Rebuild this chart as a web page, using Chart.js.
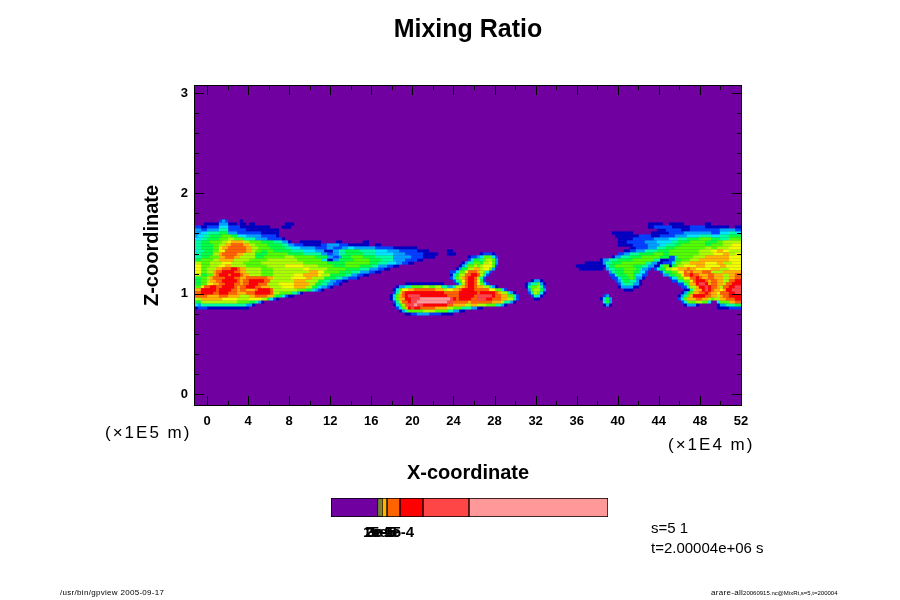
<!DOCTYPE html>
<html>
<head>
<meta charset="utf-8">
<title>Mixing Ratio</title>
<script src="https://cdn.jsdelivr.net/npm/chart.js@4"></script>
<style>
  html, body { margin: 0; background: #fff; }
  #wrap { position: relative; width: 900px; height: 600px; overflow: hidden; font-family: "Liberation Sans", sans-serif; color: #000; }
  #field { position: absolute; left: 0; top: 0; }
  #bar { position: absolute; left: 301px; top: 490px; }
  .note { position: absolute; white-space: nowrap; line-height: 1; }
  .scale { font-size: 17px; letter-spacing: 2px; }
  .info { font-size: 15px; }
  .foot { font-size: 8px; letter-spacing: .3px; }
</style>
</head>
<body>
<div id="wrap">
  <canvas id="field" width="900" height="600"></canvas>
  <canvas id="bar" width="336" height="60"></canvas>
  <div class="note scale" style="left:105px;top:424px">(×1E5 m)</div>
  <div class="note scale" style="left:668px;top:436px">(×1E4 m)</div>
  <div class="note info" style="left:651px;top:520px">s=5 1</div>
  <div class="note info" style="left:651px;top:540px">t=2.00004e+06 s</div>
  <div class="note foot" style="left:60px;top:589px">/usr/bin/gpview 2005-09-17</div>
  <div class="note foot" style="left:711px;top:589px">arare-all<span style="font-size:6px;letter-spacing:0">20060915.nc@MixRt,s=5,t=200004</span></div>
</div>
<script>
'use strict'

// axis ticks
const xTickValues = [0,2,4,6,8,10,12,14,16,18,20,22,24,26,28,30,32,34,36,38,40,42,44,46,48,50,52];
const zTickValues = [0,0.2,0.4,0.6,0.8,1,1.2,1.4,1.6,1.8,2,2.2,2.4,2.6,2.8,3];

// contour levels, '.' is the plain background
const levelKeys = 'abcdefghijklmn';
const levelColors = ['#0000c0','#0040ff','#00a0ff','#00e4ff','#00ffa0','#00ff40','#50ff00','#a8ff00','#f0ff00','#ffb400','#ff6400','#ff0000','#ff4646','#ff9999'];

// field cells. one string per row from the top,
// each token is a level and the cell column where that level ends
const leftPlume = [
  '',
  '.8 b9 c10 b11 .15 a16',
  '.3 a8 c11 a14 .15 a17 .18 a20 .30 a33',
  'b2 a4 b8 d11 b15 a25 .29 a32',
  'c2 b4 c8 e11 b17 a28',
  'c2 d4 e8 f11 c14 b22 a28',
  'c1 d3 e5 f9 g12 f14 d17 c22 b27 a28',
  'd2 e4 f8 g11 h13 g16 e20 c24 b29 a30',
  'e2 f5 g9 h11 i12 j16 h18 g22 f26 e29 c31 a32 .35 a42 .47 a49 .56 a58',
  'e2 f6 g8 h10 j12 k16 j18 h20 g24 f29 e31 c33 b36 a42 b44 c48 b51 a58 .60 a62',
  'e2 f6 g8 i9 j11 k17 j19 h21 g25 f30 e32 d35 c40 b44 c46 b49 c51 d53 c60 b66 a74',
  'd1 e3 f6 g8 i10 k17 j19 h20 g22 f24 g26 f32 e36 d40 c43 a46 c48 e50 f55 e60 d64 c68 b74 a78 .84 a86',
  'e2 f6 h8 j9 k14 j16 h20 f24 g31 f36 e42 c44 b46 c48 e50 f56 e60 d66 c70 b76 a81 .84 a87',
  'e2 f5 g8 j10 k13 j15 h20 f23 g30 h33 g40 f44 c46 b48 c49 f52 g56 f60 e66 c72 b76 a80',
  'f2 g6 h8 j13 h18 g24 h34 g42 d44 a46 c48 f53 g58 f62 e66 c70 b74 a76',
  'h2 g5 h9 i12 h16 g22 h36 g44 f50 g58 f61 e64 d67 c69 b71 a73',
  'i2 g5 h8 i10 j12 h17 g24 h30 i36 h41 g46 f50 g55 f59 e61 c64 b66 a68',
  'i2 g4 h7 j9 k12 l14 k15 j17 h22 g26 h36 i38 h44 g50 f55 e58 c61 b63 a65',
  'i2 g4 h6 j7 k9 l13 k15 j17 h22 g26 h38 j41 i43 g48 f52 e55 c58 b60 a62',
  'h2 f4 g6 j7 k8 l11 k12 l15 k16 j18 h22 g26 h33 i36 j41 i42 h45 f50 e52 c54 b56 a58',
  'f2 g4 h5 j6 k10 l13 k15 j17 k24 j26 h32 i37 j39 h43 f47 e49 c51 b54 a55',
  'f2 g4 h5 j7 k9 l14 k15 j16 k18 l23 k25 h28 h33 j37 h41 f43 e45 c47 b49 a51',
  'f2 g4 i6 j8 k10 l13 k15 j16 k18 l21 k24 h28 i33 j38 h40 f42 e44 c46 b48 a49',
  'g2 i3 k5 l7 k9 l13 k14 j15 k17 l20 k22 j25 h29 i33 j37 h39 f41 d42 c44 b45 a46',
  'j2 l7 k8 l12 k14 j15 k17 j20 k21 l25 k26 h29 h34 g37 f39 d40 c41 b42 a43',
  'k2 l6 k8 l11 k14 j17 k20 l25 k26 h28 g32 e34 c35 a36',
  'k4 j8 k11 j15 h18 j20 k24 j26 g27 f29 d30 b31 a33',
  'h2 j9 i14 h18 i22 h24 f25 d26 b27 a28',
  'f2 h14 g18 f20 e21 c22 a23',
  'd1 c2 e17 c19 a20',
  'a1 b4 a18'
];

const midCloud = [
  '','','','','','','','','','','','',
  '.95 a96 b99 a100',
  '.91 a92 b94 c95 d96 g99 d100 b101',
  '.91 b92 d93 f95 e96 g97 h99 g100 c101',
  '.89 a90 c91 e93 g95 f96 h98 i99 g100 c101',
  '.88 a89 c90 e91 g93 h94 g95 h96 i99 g100 b101',
  '.87 a88 c89 f91 h93 j95 h96 i98 g99 c100',
  '.85 b87 d88 g90 i91 k94 j95 h96 g97 d98 b99',
  '.85 a86 d87 f88 h90 k92 l94 k95 h96 e97 b98',
  '.85 b86 d87 g88 h89 j90 k91 l93 k94 h95 e96 b97',
  '.86 b87 e88 g89 i90 k91 l93 k94 i95 f96 b97 .112 a113 c115 a116',
  '.70 a83 .87 b88 e89 h90 k91 l93 k94 i95 g96 d97 b98 .110 a111 c112 e114 g115 c116 a117',
  '.67 a68 c70 e72 g76 h78 g80 h82 e84 c86 e87 h89 j90 k91 l93 k94 j96 h98 e99 c100 a101 .110 a111 e112 g114 h115 e116 b117',
  '.66 a67 d68 g69 i71 j73 k80 j83 h84 i86 j88 k89 l93 k98 i100 g102 d103 b104 .111 c112 g113 h115 f116 c117',
  '.66 b67 e68 h69 k70 l83 k88 l94 k95 l100 k101 j102 h104 e105 c106 a107 .111 b112 e113 h114 g115 d116 a117',
  '.65 a66 d67 g68 j69 k70 l71 m75 l84 k88 l93 k94 m99 l100 k102 j104 g106 e107 b108 .112 b113 e114 d115 a116 .136 b137 c138',
  '.65 a66 d67 g68 j70 l72 m75 n85 m86 l87 k88 l92 k94 m97 l99 k102 j104 h106 e107 b108 .113 a115 .135 a136 d137 f138 c139',
  '.66 b67 e68 h69 k71 l72 m74 n84 m86 k91 j92 k99 j102 h103 e105 c106 a107 .136 d137 f138 c139',
  '.66 a67 d68 f69 h70 k71 m73 n74 m76 l84 k86 j90 h92 j94 h97 g100 e102 c103 a104 .136 a137 c138 a139',
  '.67 b68 d69 g70 j71 l72 m73 l75 k80 j84 h86 g89 e92 c94 a96',
  '.68 a69 c70 e71 g76 h80 g84 e86 c88 a90',
  '.70 a72 b74 c78 b82 a86'
];

const rightPlume = [
  '','',
  '.151 a156 .158 a163 .170 a172',
  '.151 a153 b159 a165 b170 a178 .180 a182',
  '.154 a157 b162 a165 b175 c180 b182',
  '.139 a146 .152 a158 b163 c172 b175 d178 e180 d182',
  '.140 a148 b152 a155 b160 c164 d168 e172 d175 e178 f182',
  '.141 a146 b153 c158 d161 e164 f168 g172 f175 e178 g182',
  '.141 a144 b150 c154 d159 e161 f165 g170 f174 g176 h182',
  '.141 a146 b151 c155 d157 e160 f162 g170 f172 g176 h179 i182',
  '.145 a147 b151 c154 e157 f160 g170 h172 g174 h178 i182',
  '.143 a145 b147 c150 e154 f158 g168 h172 i174 j176 i178 h182',
  '.141 b143 c145 e148 f153 g156 f158 g168 h173 i176 j178 h180 i182',
  '.139 a140 c142 e145 f149 g155 f158 b160 e161 g166 h170 j178 i182',
  '.135 a136 c138 e141 f146 g153 e155 a158 b160 f162 g165 h168 j178 i182',
  '.130 a136 c137 e139 f142 g150 e152 c154 a156 b159 d160 g162 h165 j170 i174 j176 h179 i182',
  '.127 a137 d138 f140 g146 f149 e151 c153 a155 e156 g158 a159 f160 g161 h163 i167 j170 i175 j177 i182',
  '.128 a136 .137 c138 e140 f143 g147 f148 e149 c151 b152 .153 b154 d155 f157 h159 i161 j164 k165 j167 i172 j175 h178 i182',
  '.138 c139 e140 f143 g146 f148 d150 b151 .155 b156 e157 f159 g161 i163 k164 j165 k166 j169 k172 h176 j182',
  '.138 b140 e141 f144 g146 f147 d149 b151 .156 c158 f160 g162 i163 k165 l166 k168 j171 k173 j176 h178 j180 k182',
  '.139 b141 d142 f145 g146 f147 c149 a150 .158 b159 d161 g163 i165 k167 l168 k169 j171 k173 j176 h178 j180 k182',
  '.140 b141 c142 e143 f145 e147 c148 a149 .159 b161 e163 g165 i166 k167 l170 k171 j172 k174 j176 h178 k180 l182',
  '.141 b142 d143 e146 c148 a149 .161 b163 e164 g165 j167 l168 m170 l171 j172 k174 j176 h177 k179 l182',
  '.141 a142 c146 a148 .162 b164 e165 h167 j168 l170 m171 l172 k174 j175 h176 k178 l180 m182',
  '.143 a146 .163 a165 e166 h167 j169 l170 m171 l172 k173 j175 i176 j177 l179 m182',
  '.162 a163 c164 f165 g166 j168 k170 l171 k172 j174 i175 k178 l180 m182',
  '.161 a162 c163 e164 g165 j166 l170 k172 j174 h175 j176 k178 l182',
  '.161 b162 d163 g164 j167 k169 j171 h172 g173 h175 j177 k180 l182',
  '.162 b163 d164 g167 h169 g171 d172 .174 d175 g178 j180 k182',
  '.163 a164 c167 a168 .174 a175 c177 e180 f182',
  '.174 a178 b182'
];

// colour bar
const barColors = ['#7000a0','#b0ff00','#ffff00','#ffb400','#ff6400','#ff0000','#ff4646','#ff9999'];
const barWidths = [47,2,2,5,13,23,46,139];
const barTickValues = [47,49,51,55,68];
const barTickLabels = ['1e-5','2e-5','3e-5','5e-5','1e-4'];

const BG = '#7000a0';
const PLOT = { left: 195, top: 85, right: 741, bottom: 405 };
const X_RANGE = [-1.17, 52];
const Z_RANGE = [-0.11, 3.07];
const CELL_X = 3 / 10.27;   // 3 px cell in axis units
const CELL_Z = 3 / 100.6;
const Z_FIRST = 1.768;      // top of first field row

// expand the run strings into one point list per level
function buildDatasets() {
  const cells = levelKeys.split('').map(() => []);
  [leftPlume, midCloud, rightPlume].forEach(rows => {
    rows.forEach((row, j) => {
      let col = 0;
      row.split(' ').filter(Boolean).forEach(tok => {
        const end = Number(tok.slice(1));
        const lvl = levelKeys.indexOf(tok[0]);
        for (; col < end; col++) {
          if (lvl >= 0) cells[lvl].push({
            x: X_RANGE[0] + (col + 0.5) * CELL_X,
            y: Z_FIRST - (j + 0.5) * CELL_Z
          });
        }
      });
    });
  });
  return cells.map((pts, i) => ({
    label: levelKeys[i],
    data: pts,
    showLine: false,
    pointStyle: 'rect',
    pointRadius: 2.3,
    pointBorderWidth: 0,
    pointHoverRadius: 2.3,
    backgroundColor: levelColors[i],
    order: levelColors.length - i
  }));
}

// purple underlay
const fieldBack = {
  id: 'fieldBack',
  beforeDatasetsDraw(chart) {
    const a = chart.chartArea, ctx = chart.ctx;
    ctx.save();
    ctx.fillStyle = BG;
    ctx.fillRect(a.left, a.top, a.right - a.left, a.bottom - a.top);
    ctx.restore();
  }
};

// ticks point into the plot on all four sides
const inwardTicks = {
  id: 'inwardTicks',
  afterDatasetsDraw(chart) {
    const a = chart.chartArea, ctx = chart.ctx;
    ctx.save();
    ctx.strokeStyle = '#000';
    ctx.lineWidth = 1;
    ctx.beginPath();
    chart.scales.x.ticks.forEach(t => {
      const px = Math.round(chart.scales.x.getPixelForValue(t.value)) + 0.5;
      const len = t.value % 4 === 0 ? 9 : 4;
      ctx.moveTo(px, a.bottom); ctx.lineTo(px, a.bottom - len);
      ctx.moveTo(px, a.top); ctx.lineTo(px, a.top + len);
    });
    chart.scales.y.ticks.forEach(t => {
      const py = Math.round(chart.scales.y.getPixelForValue(t.value)) + 0.5;
      const len = Number.isInteger(t.value) ? 9 : 4;
      ctx.moveTo(a.left, py); ctx.lineTo(a.left + len, py);
      ctx.moveTo(a.right, py); ctx.lineTo(a.right - len, py);
    });
    ctx.stroke();
    ctx.strokeRect(a.left - 0.5, a.top - 0.5, a.right - a.left + 1, a.bottom - a.top + 1);
    ctx.restore();
  }
};

Chart.defaults.font.family = '"Liberation Sans", sans-serif';
Chart.defaults.color = '#000';

new Chart(document.getElementById('field'), {
  type: 'scatter',
  data: { datasets: buildDatasets() },
  plugins: [fieldBack, inwardTicks],
  options: {
    responsive: false,
    animation: false,
    devicePixelRatio: 1,
    layout: { padding: { left: 140, right: 900 - PLOT.right, top: 0, bottom: 115 } },
    plugins: {
      legend: { display: false },
      tooltip: { enabled: false },
      title: {
        display: true,
        fullSize: false,
        text: 'Mixing Ratio',
        font: { size: 25, weight: 'bold' },
        padding: { top: 15, bottom: 41 }
      }
    },
    scales: {
      x: {
        type: 'linear',
        min: X_RANGE[0],
        max: X_RANGE[1],
        afterBuildTicks(s) { s.ticks = xTickValues.map(value => ({ value })); },
        afterFit(s) { s.height = 80; },
        grid: { display: false, drawTicks: false },
        border: { display: false },
        ticks: {
          autoSkip: false,
          maxRotation: 0,
          padding: 9,
          font: { size: 13, weight: 'bold' },
          callback: v => (v % 4 === 0 ? String(v) : '')
        },
        title: {
          display: true,
          text: 'X-coordinate',
          font: { size: 20, weight: 'bold' },
          padding: { top: 0, bottom: 0 }
        }
      },
      y: {
        type: 'linear',
        min: Z_RANGE[0],
        max: Z_RANGE[1],
        afterBuildTicks(s) { s.ticks = zTickValues.map(value => ({ value })); },
        afterFit(s) { s.width = PLOT.left - 140; },
        grid: { display: false, drawTicks: false },
        border: { display: false },
        ticks: {
          autoSkip: false,
          padding: 7,
          font: { size: 13, weight: 'bold' },
          callback: v => (Number.isInteger(v) ? String(v) : '')
        },
        title: {
          display: true,
          text: 'Z-coordinate',
          font: { size: 20, weight: 'bold' },
          padding: { top: 0, bottom: 0 }
        }
      }
    }
  }
});

new Chart(document.getElementById('bar'), {
  type: 'bar',
  data: {
    labels: ['level'],
    datasets: barWidths.map((w, i) => ({
      data: [w],
      backgroundColor: barColors[i],
      borderColor: '#000',
      borderWidth: 1,
      borderSkipped: false,
      categoryPercentage: 1,
      barPercentage: 1
    }))
  },
  options: {
    indexAxis: 'y',
    responsive: false,
    animation: false,
    devicePixelRatio: 1,
    layout: { padding: { left: 30, right: 29, top: 8, bottom: 0 } },
    plugins: { legend: { display: false }, tooltip: { enabled: false } },
    scales: {
      x: {
        stacked: true,
        min: 0,
        max: 277,
        afterBuildTicks(s) { s.ticks = barTickValues.map(value => ({ value })); },
        afterFit(s) { s.height = 33; },
        grid: { display: false, drawTicks: false },
        border: { display: false },
        ticks: {
          autoSkip: false,
          maxRotation: 0,
          padding: 7,
          font: { size: 15, weight: 'bold' },
          callback: v => barTickLabels[barTickValues.indexOf(v)]
        }
      },
      y: { stacked: true, display: false }
    }
  }
});
</script>
</body>
</html>
